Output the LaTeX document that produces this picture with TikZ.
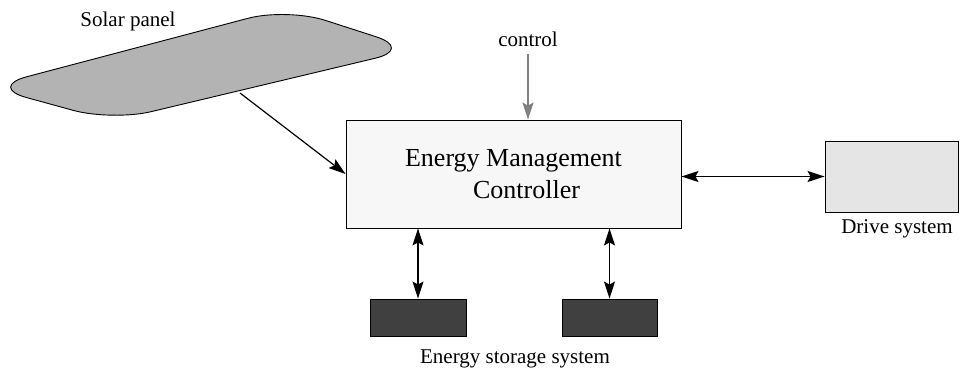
\documentclass[tikz,border=0pt]{standalone}
\usepackage{fontspec}
\setmainfont{Liberation Serif}
\usepackage{tikz}
\usetikzlibrary{arrows.meta}
\definecolor{panel}{RGB}{179, 179, 179}
\definecolor{emcfill}{RGB}{247, 247, 247}
\definecolor{drivefill}{RGB}{229, 229, 229}
\definecolor{storefill}{RGB}{64, 64, 64}
\definecolor{ctrlgray}{RGB}{128, 128, 128}

\begin{document}
\begin{tikzpicture}[x=1pt, y=1pt, line width=1.2pt,
  tip/.style={-{Stealth[length=17pt, width=11pt, inset=3pt]}},
  both/.style={{Stealth[length=17pt, width=11pt, inset=3pt]}-{Stealth[length=17pt, width=11pt, inset=3pt]}},
  lbl/.style={font=\fontsize{21}{25}\selectfont, anchor=base, inner sep=0pt},
  block/.style={draw, line width=0.9pt, inner sep=0pt}]
  \useasboundingbox (0, 0) rectangle (962, 372);

  % solar panel
  \draw[fill=panel, line width=0.9pt, rounded corners=40pt] (-12, 285) -- (287, 364) -- (414, 323) -- (112, 251) -- cycle;
  \coordinate (panelfoot) at (240, 279);
  \node[lbl] (solarlbl) at (128, 345) {Solar panel};

  \node[block, fill=emcfill, minimum width=335pt, minimum height=108pt, align=center,
        font=\fontsize{26}{32}\selectfont] (emc) at (513.5, 198) {Energy Management\\\hspace{26pt}Controller};
  \node[lbl] (ctrl) at (528, 325) {control};

  \node[block, fill=drivefill, minimum width=133pt, minimum height=71pt] (drive) at (891.5, 195.5) {};
  \node[lbl] (drivelbl) at (897, 138) {Drive system};

  \node[block, fill=storefill, minimum width=96pt, minimum height=37pt] (store1) at (418, 54.5) {};
  \node[block, fill=storefill, minimum width=95pt, minimum height=37pt] (store2) at (609.5, 54.5) {};
  \node[lbl] (storelbl) at (515, 8) {Energy storage system};

  \draw[tip] (panelfoot) -- (emc.west);
  \draw[tip, ctrlgray] ([yshift=-6pt]ctrl.south) -- (ctrl.south |- emc.north);
  \draw[both] (emc.east |- drive.west) -- (drive.west);
  \draw[both] (store1.north |- emc.south) -- (store1.north);
  \draw[both] (store2.north |- emc.south) -- (store2.north);
\end{tikzpicture}
\end{document}
